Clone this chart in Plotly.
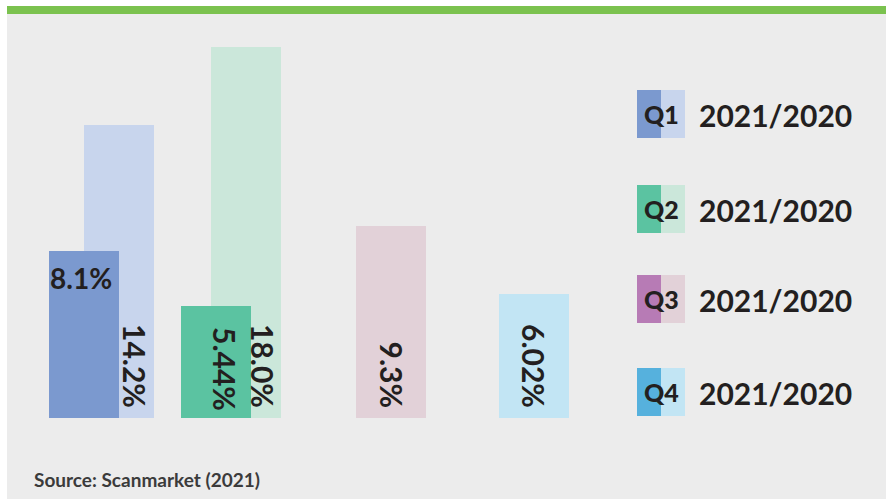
import plotly.graph_objects as go

# ---- data ----
quarters = ["Q1", "Q2", "Q3", "Q4"]
growth_2021 = [8.1, 5.44, None, None]
growth_2020 = [14.2, 18.0, 9.3, 6.02]
legend_period = "2021/2020"
source_text = "Source: Scanmarket (2021)"

# ---- styling ----
dark_colors = ["#7b99cf", "#5bc3a1", "#b77bb5", "#56b1dd"]
light_colors = ["#c8d5ed", "#cbe7da", "#e2d1d8", "#c2e5f4"]
text_color = "#231f20"
bg = "#ececec"
FONT = "Lato"

W, H = 886, 499
ML, MR, MT, MB = 30, 280, 47, 81
PW = W - ML - MR
PH = H - MT - MB


def px(xp):
    return (xp - ML) / PW


def py(yp):
    return (H - MB - yp) / PH


fig = go.Figure()

# 2020 (light) bars behind
fig.add_trace(go.Bar(
    x=quarters, y=growth_2020,
    marker=dict(color=light_colors, line=dict(width=0)),
    width=0.486, offset=[-0.125, -0.243, -0.236, -0.243],
    hoverinfo="skip", showlegend=False,
))
# 2021 (dark) bars in front
fig.add_trace(go.Bar(
    x=quarters, y=growth_2021,
    marker=dict(color=dark_colors, line=dict(width=0)),
    width=0.486, offset=[-0.368, -0.451, 0, 0],
    hoverinfo="skip", showlegend=False,
))

annotations = []
label_font = dict(family=FONT, size=30, color=text_color, weight="bold")

# rotated 2020 labels near bottom
shifts_2020 = [33, 17, 2, 0]
for q, v, s in zip(quarters, growth_2020, shifts_2020):
    txt = f"{v:.1f}%" if q in ("Q1", "Q2", "Q3") else f"{v:.2f}%"
    annotations.append(dict(
        x=q, y=0, xref="x", yref="y", text=txt, textangle=90,
        showarrow=False, xanchor="center", yanchor="bottom",
        xshift=s, yshift=8, font=label_font,
    ))

# 2021 labels
for q, v in zip(quarters, growth_2021):
    if v is None:
        continue
    if q == "Q1":
        annotations.append(dict(
            x=q, y=v, xref="x", yref="y", text=f"{v:.1f}%",
            showarrow=False, xanchor="center", yanchor="top",
            xshift=-21, yshift=-8,
            font=dict(family=FONT, size=28, color=text_color, weight="bold"),
        ))
    else:
        annotations.append(dict(
            x=q, y=0, xref="x", yref="y", text=f"{v:.2f}%", textangle=90,
            showarrow=False, xanchor="center", yanchor="bottom",
            xshift=-21, yshift=5, font=label_font,
        ))

shapes = []
# frame: white left/top strips and green band
shapes.append(dict(type="rect", xref="paper", yref="paper",
                   x0=px(0), x1=px(7), y0=py(H), y1=py(0),
                   fillcolor="white", line=dict(width=0), layer="below"))
shapes.append(dict(type="rect", xref="paper", yref="paper",
                   x0=px(0), x1=px(W), y0=py(6), y1=py(0),
                   fillcolor="white", line=dict(width=0), layer="below"))
shapes.append(dict(type="rect", xref="paper", yref="paper",
                   x0=px(7), x1=px(W), y0=py(14), y1=py(6),
                   fillcolor="#7bc24f", line=dict(width=0), layer="below"))

# custom legend
row_tops = [90, 185, 275, 368]
sq = 48
for q, dc, lc, top in zip(quarters, dark_colors, light_colors, row_tops):
    shapes.append(dict(type="rect", xref="paper", yref="paper",
                       x0=px(637), x1=px(661), y0=py(top + sq), y1=py(top),
                       fillcolor=dc, line=dict(width=0)))
    shapes.append(dict(type="rect", xref="paper", yref="paper",
                       x0=px(661), x1=px(685), y0=py(top + sq), y1=py(top),
                       fillcolor=lc, line=dict(width=0)))
    annotations.append(dict(
        x=px(661), y=py(top + sq / 2), xref="paper", yref="paper",
        text=q, showarrow=False, xanchor="center", yanchor="middle",
        font=dict(family=FONT, size=25, color=text_color, weight=900),
    ))
    annotations.append(dict(
        x=px(697), y=py(top + sq / 2 + 1), xref="paper", yref="paper",
        text=legend_period, showarrow=False, xanchor="left", yanchor="middle",
        font=dict(family=FONT, size=30, color=text_color, weight="bold"),
    ))

annotations.append(dict(
    x=px(32), y=py(479), xref="paper", yref="paper", text=source_text,
    showarrow=False, xanchor="left", yanchor="middle",
    font=dict(family=FONT, size=19, color="#3b3b3b", weight="bold"),
))

fig.update_layout(
    width=W, height=H,
    margin=dict(l=ML, r=MR, t=MT, b=MB, pad=0),
    paper_bgcolor=bg, plot_bgcolor=bg,
    barmode="overlay", bargap=0,
    xaxis=dict(visible=False, range=[-0.5, 3.5], type="category"),
    yaxis=dict(visible=False, range=[0, 18.0]),
    shapes=shapes, annotations=annotations,
    showlegend=False,
)

fig.write_html(
    "out.html",
    config={"displayModeBar": False},
    post_script="document.body.style.margin='0';document.body.style.overflow='hidden';",
)
